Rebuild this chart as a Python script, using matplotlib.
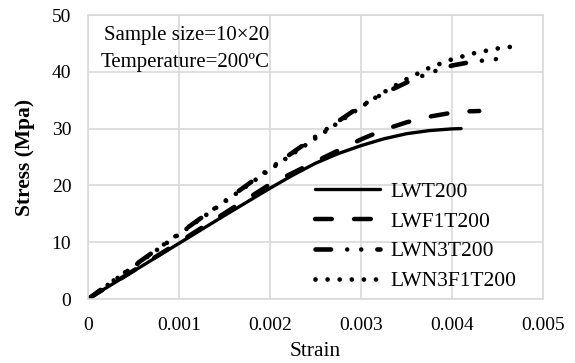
import matplotlib
matplotlib.use("Agg")
import matplotlib.pyplot as plt

plt.rcParams['font.family'] = ['Liberation Serif', 'DejaVu Serif']
plt.rcParams['lines.scale_dashes'] = False

# Data
strain_lwt = [0, 0.0005, 0.001, 0.0015, 0.002, 0.00225, 0.0025, 0.00275, 0.003, 0.00325, 0.0035, 0.00375, 0.004, 0.0041]
stress_lwt = [0, 4.9, 9.8, 14.7, 19.5, 21.8, 23.9, 25.6, 27.0, 28.2, 29.1, 29.65, 29.95, 30.0]

strain_lwf = [0, 0.0005, 0.001, 0.0015, 0.002, 0.0025, 0.003, 0.00325, 0.0035, 0.00375, 0.004, 0.0041, 0.0043]
stress_lwf = [0, 5.0, 10.0, 15.1, 20.2, 24.2, 28.1, 29.8, 31.1, 32.1, 32.8, 33.0, 33.1]

strain_lwn3 = [0, 0.0005, 0.001, 0.0015, 0.002, 0.0025, 0.003, 0.00325, 0.0035, 0.00375, 0.004, 0.0042, 0.0044, 0.00453]
stress_lwn3 = [0, 5.8, 11.5, 17.2, 23.0, 28.6, 34.0, 36.2, 38.1, 39.8, 41.1, 41.7, 42.1, 42.3]

strain_lwn3f = [0, 0.0005, 0.001, 0.0015, 0.002, 0.0025, 0.003, 0.00325, 0.0035, 0.00375, 0.004, 0.00425, 0.0045, 0.0047]
stress_lwn3f = [0, 5.7, 11.4, 17.1, 22.8, 28.3, 33.8, 36.4, 38.7, 40.7, 42.2, 43.3, 44.1, 44.5]

labels = ["LWT200", "LWF1T200", "LWN3T200", "LWN3F1T200"]
xticks = [0, 0.001, 0.002, 0.003, 0.004, 0.005]
xtick_labels = ["0", "0.001", "0.002", "0.003", "0.004", "0.005"]
yticks = [0, 10, 20, 30, 40, 50]

fig = plt.figure(figsize=(5.75, 3.63), dpi=100)
ax = fig.add_axes([88/575, 1-299/363, (543-88)/575, (299-15)/363])

common = dict(color='black', solid_joinstyle='round', dash_joinstyle='round')
ax.plot(strain_lwt, stress_lwt, lw=2.4, solid_capstyle='round', label=labels[0], **common)
ax.plot(strain_lwf, stress_lwf, lw=3.2, linestyle=(0, (12.1, 16.0)),
        dash_capstyle='round', label=labels[1], **common)
ax.plot(strain_lwn3, stress_lwn3, lw=3.3,
        linestyle=(0, (11.2, 11.6, 0.01, 10.1, 0.01, 11.6)),
        dash_capstyle='round', label=labels[2], **common)
ax.plot(strain_lwn3f, stress_lwn3f, lw=3.4, linestyle=(0, (0.01, 8.7)),
        dash_capstyle='round', label=labels[3], **common)

ax.set_xlim(0, 0.005)
ax.set_ylim(0, 50)
ax.set_xticks(xticks)
ax.set_xticklabels(xtick_labels)
ax.set_yticks(yticks)
ax.tick_params(length=0, labelsize=14)
ax.tick_params(axis='x', pad=13)
ax.tick_params(axis='y', pad=12)
ax.grid(True, color='#d9d9d9', lw=1.2)
ax.set_axisbelow(True)
for s in ax.spines.values():
    s.set_color('#d9d9d9')
    s.set_linewidth(1.2)

ax.set_xlabel("Strain", fontsize=15.5, labelpad=6)
ax.set_ylabel("Stress (Mpa)", fontsize=15.5, fontweight='bold', labelpad=12)

ax.text(0.035, 0.928, "Sample size=10×20", transform=ax.transAxes, fontsize=15,
        va='center', ha='left')
ax.text(0.027, 0.833, "Temperature=200ºC", transform=ax.transAxes, fontsize=15,
        va='center', ha='left')

ax.legend(loc='center left', bbox_to_anchor=(0.499, 0.22), frameon=False,
          fontsize=15.5, handlelength=3.0, handletextpad=0.5, labelspacing=0.45,
          borderpad=0, borderaxespad=0)

fig.savefig("out.png", dpi=100)
